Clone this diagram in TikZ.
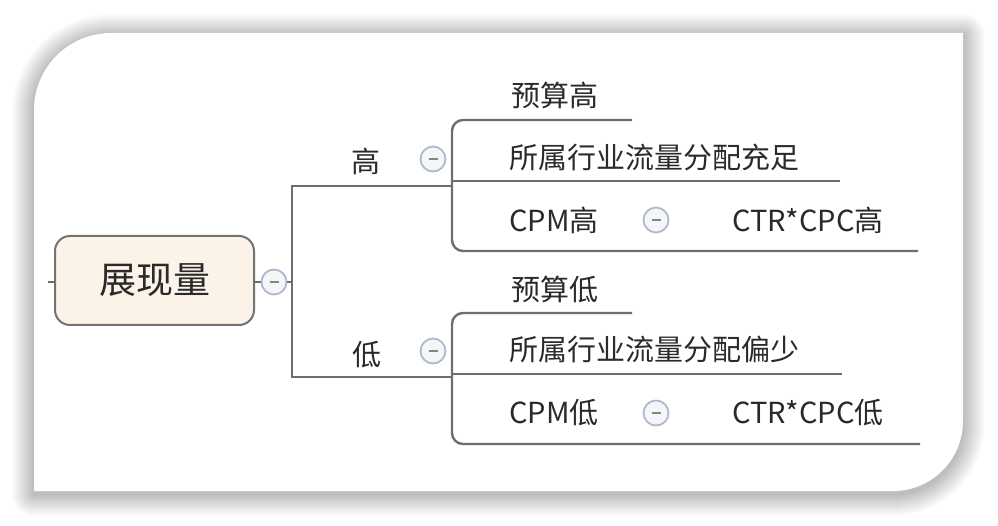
\documentclass[tikz,border=0pt]{standalone}
\usepackage{fontspec}
\newfontfamily\cjk{Noto Sans CJK SC}
\definecolor{linecol}{HTML}{6E6E6E}
\definecolor{txtcol}{HTML}{2A2A2A}
\definecolor{rootfill}{HTML}{FBF2E8}
\definecolor{rootline}{HTML}{737373}
\definecolor{togline}{HTML}{AFB8CD}
\definecolor{togfill}{HTML}{F4F6FA}
\definecolor{minuscol}{HTML}{858585}
\tikzset{
  conn/.style={draw=linecol, line width=2.4pt},
  label/.style={inner sep=0pt, text=txtcol, font=\cjk\fontsize{29}{34}\selectfont},
  leftlabel/.style={label, anchor=west},
  rootbox/.style={draw=rootline, line width=2pt, fill=rootfill, rounded corners=15pt,
    minimum width=199pt, minimum height=89pt, inner sep=0pt, text=txtcol,
    font=\cjk\fontsize{37}{44}\selectfont},
  toggle/.style={circle, draw=togline, line width=1.8pt, fill=togfill, minimum size=25pt, inner sep=0pt,
    path picture={\draw[minuscol, line width=1.6pt]
      ([xshift=-4.5pt]path picture bounding box.center) -- ([xshift=4.5pt]path picture bounding box.center);}},
}
\begin{document}
\begin{tikzpicture}[x=1pt,y=-1pt]
\useasboundingbox (0,0) rectangle (998,526);
\fill[white] (0,0) rectangle (998,526);
% card shadow
\def\cardpath{(34,110) arc[start angle=180,end angle=270,radius=77] -- (963,33) -- (963,421) arc[start angle=0,end angle=90,radius=70] -- (34,491) -- cycle}
\begin{scope}[yshift=-3pt]
\foreach \w in {2,4,...,44} {
  \draw[black, opacity=0.011, line width=\w pt, line join=round] \cardpath;
}
\end{scope}
\fill[white] \cardpath;

% root
\node[rootbox] (root) at (154.5,280.5) {展现量};
\coordinate (stub) at (48,282);
\draw[conn] (stub) -- (root.west |- stub);
\node[toggle] (t0) at (274,282) {};
\draw[conn] (root.east |- t0) -- (t0.west);
\coordinate (j0) at (292,282);
\draw[conn] (t0.east) -- (j0);
\coordinate (v0top) at (292,186);
\coordinate (v0bot) at (292,377);
\coordinate (b1) at (452,186);
\coordinate (b2) at (452,377);
\draw[conn] (b1) -- (v0top) -- (v0bot) -- (b2);

% upper branch
\node[label] (hi) at (366,161) {高};
\node[toggle] (t1) at (433,159) {};
\coordinate (u1a) at (632,120);
\coordinate (u1c) at (452,120);
\coordinate (u1d) at (452,251);
\coordinate (u1e) at (918,251);
\draw[conn, rounded corners=11pt] (u1a) -- (u1c) -- (u1d) -- (u1e);
\coordinate (u1m) at (452,181);
\coordinate (u1n) at (840,181);
\draw[conn] (u1m) -- (u1n);
\node[leftlabel] (hA) at (511,95) {预算高};
\node[leftlabel] (hB) at (509,157) {所属行业流量分配充足};
\node[leftlabel] (hC) at (509,220) {CPM高};
\node[toggle] (t2) at (656,220) {};
\node[leftlabel] (hD) at (732,220) {CTR*CPC高};

% lower branch
\node[label] (lo) at (367,355) {低};
\node[toggle] (t3) at (433,351) {};
\coordinate (l1a) at (632,313);
\coordinate (l1c) at (452,313);
\coordinate (l1d) at (452,444);
\coordinate (l1e) at (920,444);
\draw[conn, rounded corners=11pt] (l1a) -- (l1c) -- (l1d) -- (l1e);
\coordinate (l1m) at (452,374);
\coordinate (l1n) at (842,374);
\draw[conn] (l1m) -- (l1n);
\node[leftlabel] (lA) at (511,289) {预算低};
\node[leftlabel] (lB) at (509,349) {所属行业流量分配偏少};
\node[leftlabel] (lC) at (509,413) {CPM低};
\node[toggle] (t4) at (656,413) {};
\node[leftlabel] (lD) at (732,413) {CTR*CPC低};
\end{tikzpicture}
\end{document}
